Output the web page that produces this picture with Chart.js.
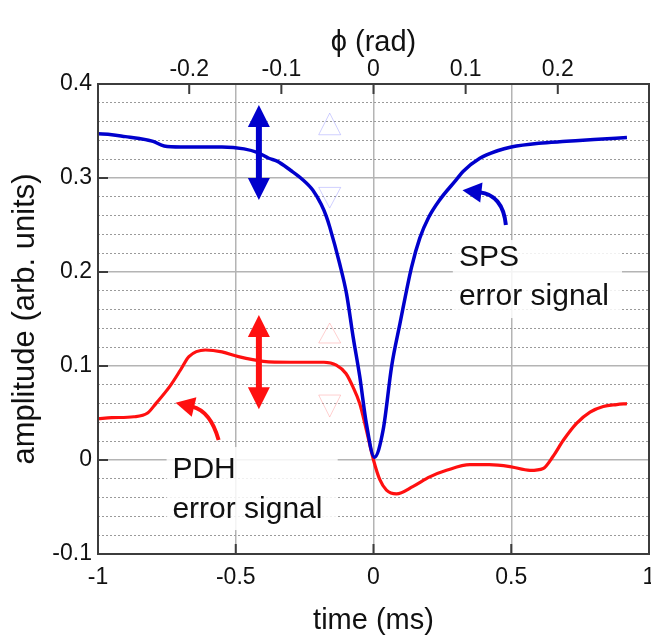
<!DOCTYPE html>
<html>
<head>
<meta charset="utf-8">
<script src="https://cdn.jsdelivr.net/npm/chart.js@4.4.1/dist/chart.umd.min.js"></script>
<style>
    html, body { margin: 0; padding: 0; background: #ffffff; }
</style>
</head>
<body>
<canvas id="errorChart" width="651" height="640"></canvas>
<script>
// SPS error signal (blue), time in ms
const spsTime = [-1.0, -0.95, -0.9, -0.85, -0.8, -0.76, -0.7, -0.6, -0.55, -0.47, -0.42, -0.38, -0.35,
    -0.3, -0.26, -0.22, -0.19, -0.171, -0.159, -0.123, -0.098, -0.074, -0.05, -0.026, 0.003,
    0.035, 0.066, 0.096, 0.138, 0.168, 0.2, 0.241, 0.3, 0.325, 0.386, 0.45, 0.5,
    0.6, 0.7, 0.8, 0.92];
const spsAmp = [0.347, 0.346, 0.344, 0.342, 0.339, 0.334, 0.333, 0.333, 0.333, 0.331, 0.327, 0.321, 0.318,
    0.308, 0.299, 0.287, 0.272, 0.259, 0.248, 0.209, 0.177, 0.131, 0.089, 0.039, 0.003,
    0.032, 0.1, 0.145, 0.205, 0.236, 0.258, 0.277, 0.298, 0.307, 0.321, 0.329, 0.333,
    0.337, 0.339, 0.341, 0.343];

// PDH error signal (red), time in ms
const pdhTime = [-1.0, -0.95, -0.87, -0.82, -0.79, -0.74, -0.7, -0.67, -0.61, -0.55, -0.49, -0.4, -0.3, -0.18,
    -0.135, -0.1, -0.075, -0.05, -0.026, 0.0, 0.023, 0.047, 0.083, 0.144, 0.204, 0.265,
    0.35, 0.42, 0.495, 0.568, 0.616, 0.652, 0.689, 0.737, 0.786, 0.834, 0.883, 0.92];
const pdhAmp = [0.044, 0.045, 0.046, 0.05, 0.06, 0.078, 0.096, 0.11, 0.117, 0.115, 0.11, 0.105, 0.104, 0.104,
    0.101, 0.092, 0.078, 0.06, 0.032, 0.0, -0.021, -0.032, -0.036, -0.028, -0.018, -0.011,
    -0.005, -0.005, -0.007, -0.011, -0.009, 0.004, 0.021, 0.039, 0.051, 0.057, 0.059, 0.06];

const timeTicks = [-1, -0.5, 0, 0.5, 1];
const phiTicks = [-0.2, -0.1, 0, 0.1, 0.2];
const ampTicks = [-0.1, 0, 0.1, 0.2, 0.3, 0.4];
const ampMinorTicks = [-0.08, -0.06, -0.04, -0.02, 0.02, 0.04, 0.06, 0.08, 0.12, 0.14, 0.16, 0.18,
    0.22, 0.24, 0.26, 0.28, 0.32, 0.34, 0.36, 0.38];
const phiRange = 0.299;

// annotations, in (time, amplitude)
const spsLabel = ["SPS", "error signal"];
const pdhLabel = ["PDH", "error signal"];
const spsTextPos = [0.31, 0.2064, 0.1649];
const pdhTextPos = [-0.73, -0.0191, -0.0617];
// boxes: [t left, t right, amp top, amp bottom]
const spsBox = [0.288, 0.902, 0.234, 0.151];
const pdhBox = [-0.751, -0.13, 0.0138, -0.0745];
const spsArrow = [[0.4805, 0.25], [0.4696, 0.282], [0.323, 0.2869]];
const pdhArrow = [[-0.5622, 0.0213], [-0.592, 0.0521], [-0.7184, 0.061]];
const doubleArrowT = -0.416;
const spsRange = [0.3777, 0.2766];
const pdhRange = [0.1543, 0.0539];
const ghostT = -0.159;
// ghost triangles: [apex, base]
const ghostUp = [[0.369, 0.346], [0.1457, 0.1245]];
const ghostDown = [[0.268, 0.29], [0.0457, 0.0691]];

const fontFamily = "'Liberation Sans', Arial, sans-serif";
const blue = "#0000cc";
const red = "#ff1010";

const toXY = (xs, ys) => xs.map((v, i) => ({ x: v, y: ys[i] }));

const annotations = {
    id: "annotations",
    beforeDatasetsDraw(chart) {
        const { ctx } = chart;
        const sx = chart.scales.x, sy = chart.scales.y;
        ctx.save();
        // white boxes behind the text
        ctx.fillStyle = "rgba(255,255,255,0.85)";
        [spsBox, pdhBox].forEach((b) => {
            const x0 = sx.getPixelForValue(b[0]), x1 = sx.getPixelForValue(b[1]);
            const y0 = sy.getPixelForValue(b[2]), y1 = sy.getPixelForValue(b[3]);
            ctx.fillRect(x0, y0, x1 - x0, y1 - y0);
        });
        ctx.fillStyle = "#111";
        ctx.font = "30px " + fontFamily;
        ctx.textBaseline = "alphabetic";
        ctx.textAlign = "left";
        [[spsLabel, spsTextPos], [pdhLabel, pdhTextPos]].forEach(([lines, pos]) => {
            const x = sx.getPixelForValue(pos[0]);
            ctx.fillText(lines[0], x, sy.getPixelForValue(pos[1]));
            ctx.fillText(lines[1], x, sy.getPixelForValue(pos[2]));
        });
        // faint ghost triangles
        ctx.lineWidth = 1;
        const gx = sx.getPixelForValue(ghostT);
        const tri = (g, col) => {
            const yA = sy.getPixelForValue(g[0]), yB = sy.getPixelForValue(g[1]);
            ctx.strokeStyle = col;
            ctx.beginPath();
            ctx.moveTo(gx, yA);
            ctx.lineTo(gx - 11, yB);
            ctx.lineTo(gx + 11, yB);
            ctx.closePath();
            ctx.stroke();
        };
        tri(ghostUp[0], "rgba(120,120,255,0.35)");
        tri(ghostDown[0], "rgba(120,120,255,0.35)");
        tri(ghostUp[1], "rgba(255,120,120,0.35)");
        tri(ghostDown[1], "rgba(255,120,120,0.35)");
        ctx.restore();
    },
    afterDatasetsDraw(chart) {
        const { ctx, chartArea } = chart;
        const sx = chart.scales.x, sy = chart.scales.y, sp = chart.scales.x2;
        ctx.save();

        // frame and inward tick marks
        ctx.strokeStyle = "#3c3c3c";
        ctx.lineWidth = 2;
        ctx.strokeRect(chartArea.left, chartArea.top, chartArea.right - chartArea.left, chartArea.bottom - chartArea.top);
        ctx.beginPath();
        timeTicks.forEach((v) => {
            const x = sx.getPixelForValue(v);
            ctx.moveTo(x, chartArea.bottom);
            ctx.lineTo(x, chartArea.bottom - 10);
        });
        phiTicks.forEach((v) => {
            const x = sp.getPixelForValue(v);
            ctx.moveTo(x, chartArea.top);
            ctx.lineTo(x, chartArea.top + 10);
        });
        ampTicks.forEach((v) => {
            const y = sy.getPixelForValue(v);
            ctx.moveTo(chartArea.left, y);
            ctx.lineTo(chartArea.left + 10, y);
        });
        ctx.stroke();

        // vertical double arrows
        const dx = sx.getPixelForValue(doubleArrowT);
        const dbl = (range, col) => {
            const yT = sy.getPixelForValue(range[0]), yB = sy.getPixelForValue(range[1]);
            const hl = 22, hw = 11;
            ctx.strokeStyle = col;
            ctx.fillStyle = col;
            ctx.lineWidth = 6;
            ctx.beginPath();
            ctx.moveTo(dx, yT + hl - 2);
            ctx.lineTo(dx, yB - hl + 2);
            ctx.stroke();
            ctx.beginPath();
            ctx.moveTo(dx, yT);
            ctx.lineTo(dx - hw, yT + hl);
            ctx.lineTo(dx + hw, yT + hl);
            ctx.closePath();
            ctx.fill();
            ctx.beginPath();
            ctx.moveTo(dx, yB);
            ctx.lineTo(dx - hw, yB - hl);
            ctx.lineTo(dx + hw, yB - hl);
            ctx.closePath();
            ctx.fill();
        };
        dbl(spsRange, blue);
        dbl(pdhRange, red);

        // curved pointer arrows
        const curved = (pts, col) => {
            const p = pts.map((q) => ({ x: sx.getPixelForValue(q[0]), y: sy.getPixelForValue(q[1]) }));
            const [tail, ctrl, tip] = p;
            const ang = Math.atan2(tip.y - ctrl.y, tip.x - ctrl.x);
            const hl = 19, hw = 10;
            const base = { x: tip.x - hl * Math.cos(ang), y: tip.y - hl * Math.sin(ang) };
            ctx.strokeStyle = col;
            ctx.fillStyle = col;
            ctx.lineWidth = 4;
            ctx.beginPath();
            ctx.moveTo(tail.x, tail.y);
            ctx.quadraticCurveTo(ctrl.x, ctrl.y, base.x + 2 * Math.cos(ang), base.y + 2 * Math.sin(ang));
            ctx.stroke();
            ctx.beginPath();
            ctx.moveTo(tip.x, tip.y);
            ctx.lineTo(base.x - hw * Math.sin(ang), base.y + hw * Math.cos(ang));
            ctx.lineTo(base.x + hw * Math.sin(ang), base.y - hw * Math.cos(ang));
            ctx.closePath();
            ctx.fill();
        };
        curved(spsArrow, blue);
        curved(pdhArrow, red);
        ctx.restore();
    },
};

const noPad = (s) => {
    s.paddingLeft = 0;
    s.paddingRight = 0;
    s.paddingTop = 0;
    s.paddingBottom = 0;
};

const tickFont = { family: fontFamily, size: 23 };

new Chart(document.getElementById("errorChart"), {
    type: "line",
    data: {
        datasets: [
            {
                label: "SPS error signal",
                data: toXY(spsTime, spsAmp),
                borderColor: blue,
                borderWidth: 3.5,
                pointRadius: 0,
                cubicInterpolationMode: "monotone",
                borderJoinStyle: "round",
            },
            {
                label: "PDH error signal",
                data: toXY(pdhTime, pdhAmp),
                borderColor: red,
                borderWidth: 3.2,
                pointRadius: 0,
                cubicInterpolationMode: "monotone",
                borderJoinStyle: "round",
            },
        ],
    },
    options: {
        responsive: false,
        animation: false,
        layout: { padding: { left: 0, right: 2, top: 0, bottom: 0 } },
        plugins: {
            legend: { display: false },
            tooltip: { enabled: false },
        },
        scales: {
            x: {
                type: "linear",
                position: "bottom",
                min: -1,
                max: 1,
                afterBuildTicks: (s) => { s.ticks = timeTicks.map((v) => ({ value: v })); },
                afterFit: (s) => { s.height = 86; noPad(s); },
                ticks: {
                    font: tickFont,
                    color: "#111",
                    padding: 10,
                    maxRotation: 0,
                    autoSkip: false,
                    callback: (v) => String(v),
                },
                grid: { color: "#b4b4b4", lineWidth: 1.5, drawTicks: false },
                border: { color: "#3c3c3c", width: 2 },
                title: {
                    display: true,
                    text: "time (ms)",
                    font: { family: fontFamily, size: 29 },
                    color: "#111",
                    padding: { top: 0, bottom: 2 },
                },
            },
            x2: {
                type: "linear",
                position: "top",
                min: -phiRange,
                max: phiRange,
                afterBuildTicks: (s) => { s.ticks = phiTicks.map((v) => ({ value: v })); },
                afterFit: (s) => { s.height = 84; noPad(s); },
                ticks: {
                    font: tickFont,
                    color: "#111",
                    padding: 1,
                    maxRotation: 0,
                    autoSkip: false,
                    callback: (v) => String(v),
                },
                grid: { drawOnChartArea: false, drawTicks: false },
                border: { color: "#3c3c3c", width: 2 },
                title: {
                    display: true,
                    text: "ϕ (rad)",
                    font: { family: fontFamily, size: 29 },
                    color: "#111",
                    padding: { top: 26, bottom: 0 },
                },
            },
            y: {
                type: "linear",
                position: "left",
                min: -0.1,
                max: 0.4,
                afterBuildTicks: (s) => { s.ticks = ampTicks.map((v) => ({ value: v })); },
                afterFit: (s) => { s.width = 98; noPad(s); },
                ticks: {
                    font: tickFont,
                    color: "#111",
                    padding: 6,
                    autoSkip: false,
                    callback: (v) => String(v),
                },
                grid: { color: "#b4b4b4", lineWidth: 1.5, drawTicks: false },
                border: { color: "#3c3c3c", width: 2 },
                title: {
                    display: true,
                    text: "amplitude (arb. units)",
                    font: { family: fontFamily, size: 31 },
                    color: "#111",
                    padding: { top: 7, bottom: 0 },
                },
            },
            yMinor: {
                type: "linear",
                position: "left",
                min: -0.1,
                max: 0.4,
                afterBuildTicks: (s) => { s.ticks = ampMinorTicks.map((v) => ({ value: v })); },
                afterFit: (s) => { s.width = 0; noPad(s); },
                ticks: { display: false },
                grid: { color: "#9a9a9a", lineWidth: 1, drawTicks: false },
                border: { display: false, dash: [2, 2] },
            },
        },
    },
    plugins: [annotations],
});
</script>
</body>
</html>
